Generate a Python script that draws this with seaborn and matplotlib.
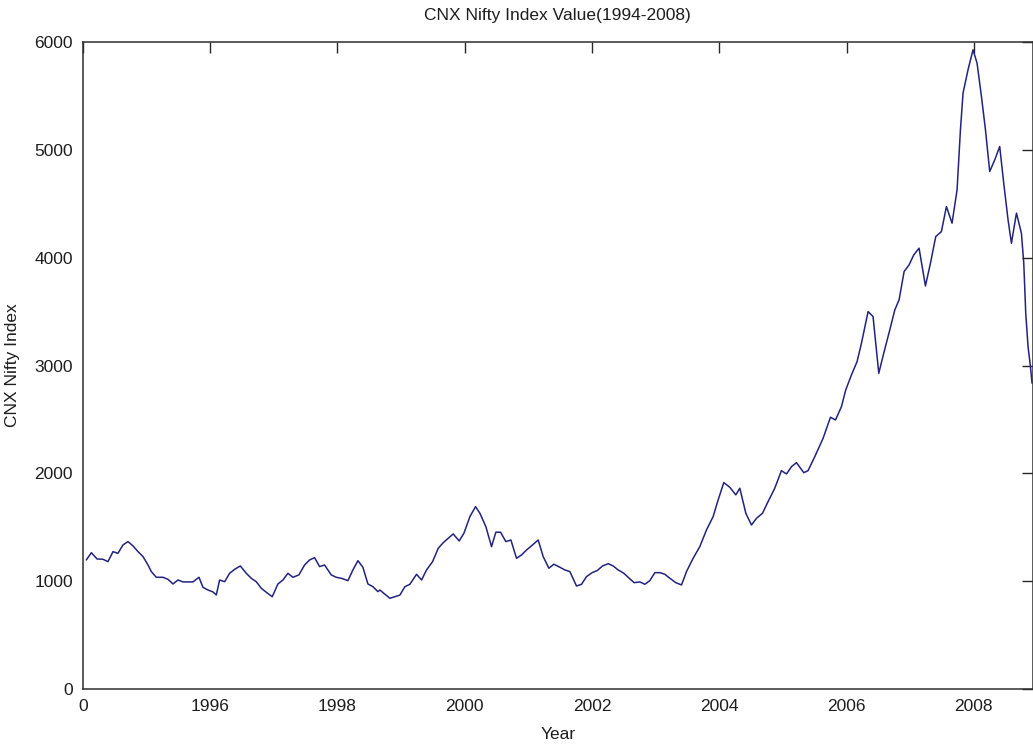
import matplotlib
matplotlib.use("Agg")
import matplotlib.pyplot as plt
import seaborn as sns
import pandas as pd

# ---- data (decimal year, index value) ----
years = [
    1994.057, 1994.136, 1994.225, 1994.319, 1994.397, 1994.476, 1994.554, 1994.633, 1994.711, 1994.790,
    1994.869, 1994.947, 1995.026, 1995.078, 1995.156, 1995.261, 1995.340, 1995.418, 1995.497, 1995.575,
    1995.654, 1995.732, 1995.827, 1995.889, 1995.968, 1996.047, 1996.099, 1996.151, 1996.230, 1996.308,
    1996.387, 1996.476, 1996.570, 1996.648, 1996.727, 1996.806, 1996.884, 1996.978, 1997.067, 1997.146,
    1997.224, 1997.303, 1997.397, 1997.486, 1997.565, 1997.643, 1997.722, 1997.800, 1997.905, 1997.983,
    1998.062, 1998.167, 1998.245, 1998.324, 1998.402, 1998.481, 1998.559, 1998.638,
    1998.669, 1998.826, 1998.905, 1998.983, 1999.062, 1999.140, 1999.245, 1999.324, 1999.402, 1999.497,
    1999.586, 1999.664, 1999.743, 1999.821, 1999.915, 1999.989, 2000.083, 2000.172, 2000.240, 2000.334,
    2000.423, 2000.491, 2000.565, 2000.648, 2000.727, 2000.816, 2000.894, 2000.973, 2001.067, 2001.156,
    2001.235, 2001.324, 2001.402, 2001.497, 2001.575, 2001.654, 2001.758, 2001.837, 2001.915, 2002.004,
    2002.083, 2002.167, 2002.256, 2002.334, 2002.413, 2002.502, 2002.586, 2002.664, 2002.753, 2002.832,
    2002.910, 2002.989, 2003.067, 2003.146, 2003.224, 2003.319, 2003.408, 2003.486, 2003.590, 2003.695,
    2003.800, 2003.904, 2003.983, 2004.072, 2004.166, 2004.261, 2004.324, 2004.418, 2004.507, 2004.586,
    2004.680, 2004.768, 2004.873, 2004.978, 2005.057, 2005.136, 2005.214, 2005.329, 2005.396, 2005.502,
    2005.632, 2005.748, 2005.827, 2005.921, 2005.988, 2006.078, 2006.166, 2006.235, 2006.339, 2006.417,
    2006.507, 2006.585, 2006.680, 2006.759, 2006.826, 2006.905, 2006.983, 2007.057, 2007.140, 2007.240,
    2007.319, 2007.402, 2007.491, 2007.570, 2007.658, 2007.737, 2007.790, 2007.831, 2007.909, 2007.988,
    2008.051, 2008.120, 2008.183, 2008.250, 2008.329, 2008.407, 2008.470, 2008.538, 2008.591, 2008.670,
    2008.748, 2008.785, 2008.816, 2008.852, 2008.890, 2008.915,
]
nifty = [
    1197, 1264, 1206, 1203, 1181, 1274, 1258, 1336, 1367, 1327,
    1274, 1228, 1150, 1089, 1036, 1036, 1017, 974, 1011, 993,
    993, 993, 1036, 943, 918, 900, 872, 1011, 995, 1073,
    1110, 1141, 1073, 1027, 995, 934, 897, 856, 974, 1011,
    1073, 1036, 1058, 1150, 1197, 1218, 1135, 1150, 1058, 1036,
    1027, 1005, 1104, 1190, 1129, 974, 949, 903,
    918, 841, 856, 871, 949, 971, 1064, 1011, 1104, 1181,
    1305, 1357, 1398, 1438, 1373, 1444, 1598, 1691, 1630, 1506,
    1320, 1454, 1454, 1367, 1382, 1212, 1243, 1289, 1336, 1382,
    1227, 1120, 1157, 1129, 1104, 1089, 955, 971, 1042, 1079,
    1098, 1141, 1162, 1141, 1104, 1073, 1027, 986, 993, 971,
    1005, 1079, 1079, 1064, 1027, 986, 965, 1089, 1212, 1320,
    1475, 1598, 1753, 1914, 1871, 1800, 1862, 1630, 1521, 1583,
    1630, 1738, 1862, 2025, 1994, 2062, 2099, 2006, 2025, 2155,
    2325, 2520, 2495, 2619, 2774, 2913, 3036, 3207, 3500, 3454,
    2928, 3114, 3330, 3516, 3609, 3871, 3933, 4026, 4088, 3738,
    3949, 4196, 4242, 4474, 4320, 4629, 5186, 5526, 5742, 5928,
    5804, 5495, 5186, 4799, 4907, 5031, 4691, 4351, 4134, 4413,
    4227, 3949, 3485, 3176, 2990, 2836,
]

x_ticks = [1994, 1996, 1998, 2000, 2002, 2004, 2006, 2008]
x_tick_labels = ["0", "1996", "1998", "2000", "2002", "2004", "2006", "2008"]
y_ticks = [0, 1000, 2000, 3000, 4000, 5000, 6000]

df = pd.DataFrame({"Year": years, "CNX Nifty Index": nifty})

sns.set_style("white")
plt.rcParams["font.family"] = ["Liberation Sans Narrow", "DejaVu Sans Condensed",
                               "Liberation Sans", "DejaVu Sans"]

W, H = 1033, 744
fig = plt.figure(figsize=(W / 100, H / 100), dpi=100)
ax = fig.add_axes([82.7 / W, 55 / H, (W - 82.7) / W, (689 - 42) / H])

sns.lineplot(data=df, x="Year", y="CNX Nifty Index", ax=ax, estimator=None,
             sort=False, color="#22237f", linewidth=1.1)

ax.set_xlim(1994, 2008.93)
ax.set_ylim(0, 6000)
ax.set_xticks(x_ticks)
ax.set_xticklabels(x_tick_labels)
ax.set_yticks(y_ticks)

txt = "#1e1e1e"
fs = 12.5
ax.tick_params(axis="both", which="both", direction="in", length=8, width=1.0,
               colors="#262626", labelcolor=txt, labelsize=fs,
               top=True, right=True)
ax.tick_params(axis="x", pad=7)
ax.tick_params(axis="y", pad=7)
for s in ax.spines.values():
    s.set_visible(True)
    s.set_color("#2e2e2e")
    s.set_linewidth(1.1)

ax.set_title("CNX Nifty Index Value(1994-2008)", fontsize=fs, color=txt, pad=16)
ax.set_xlabel("Year", fontsize=fs, color=txt)
ax.set_ylabel("CNX Nifty Index", fontsize=fs, color=txt)
ax.xaxis.set_label_coords(0.5, -0.058)
ax.yaxis.set_label_coords((20 - 82.7) / (W - 82.7), 0.5)

fig.savefig("out.png", dpi=100, facecolor="white")
